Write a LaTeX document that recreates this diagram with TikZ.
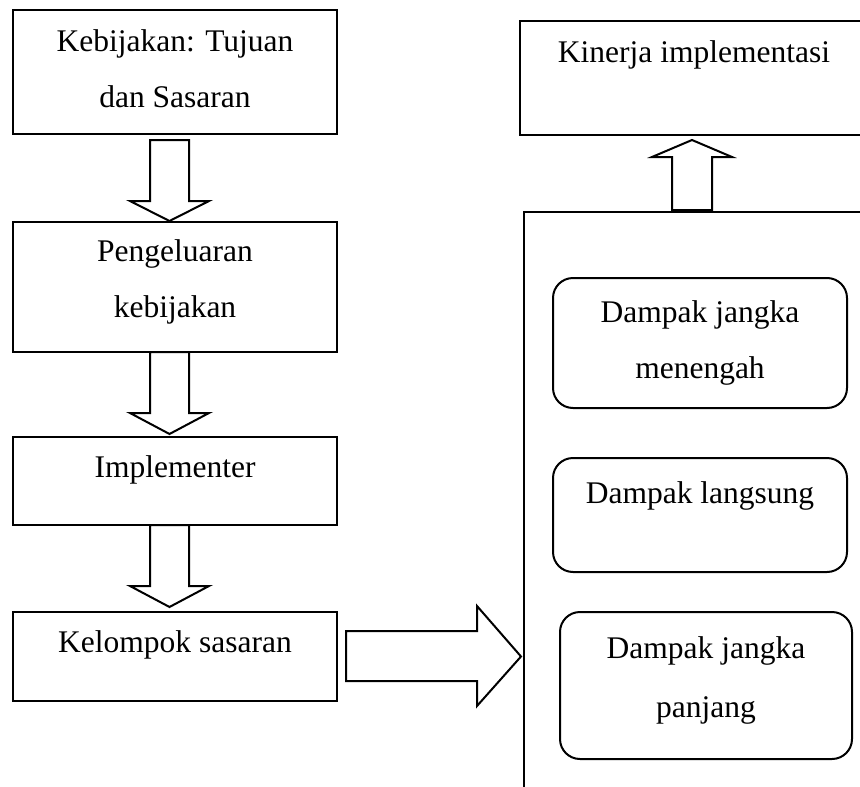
\documentclass[tikz,border=0pt]{standalone}
\usepackage{fontspec}
\setmainfont{Liberation Serif}
\usetikzlibrary{calc}
\begin{document}
\begin{tikzpicture}[x=1pt,y=-1pt,
  box/.style={draw,line width=2pt,inner sep=0pt,outer sep=0pt,rectangle},
  rbox/.style={box,rounded corners=20pt},
  lbl/.style={font=\fontsize{31.5}{56}\selectfont,anchor=base,align=center,inner sep=0pt},
  barrow/.style={draw,line width=2pt,fill=white,line join=miter}]
\useasboundingbox (0,0) rectangle (860,787);
\clip (0,0) rectangle (860,787);
% left column boxes
\node[box,minimum width=324pt,minimum height=124pt] (b1) at (175,72) {};
\node[box,minimum width=324pt,minimum height=130pt] (b2) at (175,287) {};
\node[box,minimum width=324pt,minimum height=88pt]  (b3) at (175,481) {};
\node[box,minimum width=324pt,minimum height=89pt]  (b4) at (175,656.5) {};
% right side
\node[box,minimum width=350pt,minimum height=114pt] (k) at (695,78) {};
\node[box,minimum width=356pt,minimum height=588pt] (big) at (702,506) {};
\node[rbox,minimum width=294pt,minimum height=130pt] (r1) at (700,343) {};
\node[rbox,minimum width=294pt,minimum height=114pt] (r2) at (700,515) {};
\node[rbox,minimum width=292pt,minimum height=147pt] (r3) at (706,685.5) {};
% labels (base anchor = baseline of the last line)
\node[lbl] (t1) at (175,107) {Kebijakan: Tujuan\\dan Sasaran};
\node[lbl] (t2) at (175,317) {Pengeluaran\\kebijakan};
\node[lbl] (t3) at (175,477) {Implementer};
\node[lbl] (t4) at (175,652) {Kelompok sasaran};
\node[lbl] (tk) at (694,62) {Kinerja implementasi};
\node[lbl] (tr1) at (700,378) {Dampak jangka\\menengah};
\node[lbl] (tr2) at (700,503) {Dampak langsung};
\node[lbl,font=\fontsize{31.5}{59}\selectfont] (tr3) at (706,717) {Dampak jangka\\panjang};
% block arrows
\draw[barrow] ($(b1.south)+(-25,6)$) -- ++(39,0) -- ++(0,61) -- ++(20,0)
  -- ($(b2.north)+(-5.5,-1)$) -- ++(-39.5,-20) -- ++(20,0) -- cycle;
\draw[barrow] ($(b2.south)+(-25,0)$) -- ++(39,0) -- ++(0,61) -- ++(20,0)
  -- ($(b3.north)+(-5.5,-3)$) -- ++(-39.5,-21) -- ++(20,0) -- cycle;
\draw[barrow] ($(b3.south)+(-25,0)$) -- ++(39,0) -- ++(0,61) -- ++(20,0)
  -- ($(b4.north)+(-5.5,-5)$) -- ++(-39.5,-21) -- ++(20,0) -- cycle;
\draw[barrow] ($(b4.east)+(9,-25.5)$) -- ++(131,0) -- ++(0,-25)
  -- ($(big.west |- b4.east)+(-3,0)$) -- ++(-44,49.5) -- ++(0,-25) -- ++(-131,0) -- cycle;
\draw[barrow] ($(big.north)+(-30,-2)$) -- ++(40,0) -- ++(0,-53) -- ++(20,0)
  -- ($(k.south)+(-3,5)$) -- ++(-40,17) -- ++(20,0) -- cycle;
\end{tikzpicture}
\end{document}
